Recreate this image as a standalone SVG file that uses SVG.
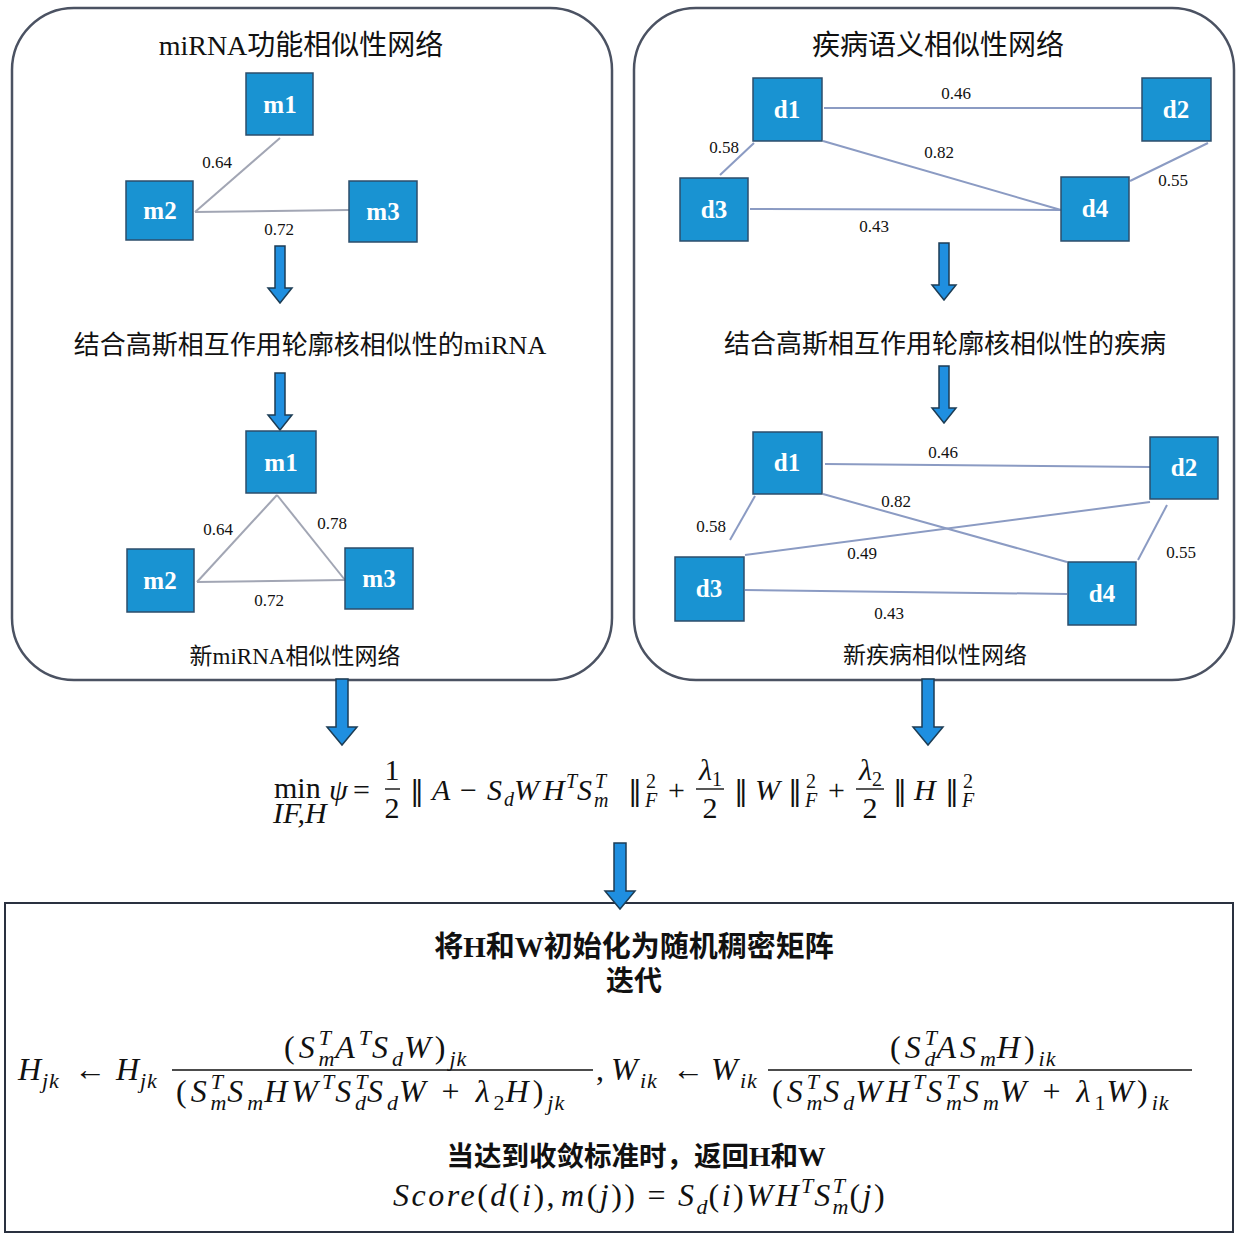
<svg xmlns="http://www.w3.org/2000/svg" width="1240" height="1237" viewBox="0 0 1240 1237">
<style>
.panel{fill:#fff;stroke:#4b5262;stroke-width:2.5}
.box{fill:#fff;stroke:#2a3140;stroke-width:2}
.node{fill:#1993d2;stroke:#2c4d6b;stroke-width:1.5}
.nt{font-family:"Liberation Serif",serif;font-weight:bold;font-size:25px;fill:#fff;text-anchor:middle}
.el{stroke:#a2a6b4;stroke-width:2;fill:none}
.er{stroke:#8b9bc3;stroke-width:2;fill:none}
.lab{font-family:"Liberation Serif",serif;font-size:17px;fill:#111;text-anchor:middle}
.cn{font-family:"Liberation Serif","Noto Sans CJK SC",sans-serif;fill:#111;text-anchor:middle}
.arr{fill:#1f8fe0;stroke:#1d3d55;stroke-width:1.5}
.mt{font-family:"Liberation Serif","DejaVu Serif",serif;font-size:32px;font-style:italic;fill:#111}
.mo{font-family:"Liberation Serif","DejaVu Serif",serif;font-size:30px;font-style:italic;fill:#111}
.nb{font-family:"DejaVu Serif",serif;font-size:28px;font-style:normal;fill:#111}
.ls4{letter-spacing:4px}
.ls3{letter-spacing:2.5px}
.up{font-style:normal}
.sc{font-size:22px;letter-spacing:1px}
.so{font-size:20px}
.bar{stroke:#111;stroke-width:1.4}
</style>
<defs>
<path id="arrS" d="M-5,0 L5,0 L5,42 L12,42 L0,57 L-12,42 L-5,42 Z"/>
<path id="arrB" d="M-6,0 L6,0 L6,48 L15,48 L0,66 L-15,48 L-6,48 Z"/>
</defs>

<g id="panel-mirna"><rect class="panel" x="12" y="8" width="600" height="672" rx="62"/></g>
<g id="panel-disease"><rect class="panel" x="634" y="8" width="600" height="672" rx="62"/></g>
<g id="panel-nmf"><rect class="box" x="5" y="903" width="1228" height="329"/></g>

<g id="connectors">
 <line class="el" x1="280" y1="138" x2="195" y2="212"/>
 <line class="el" x1="195" y1="212" x2="349" y2="210"/>
 <line class="el" x1="277" y1="495" x2="197" y2="582"/>
 <line class="el" x1="277" y1="495" x2="345" y2="580"/>
 <line class="el" x1="197" y1="582" x2="345" y2="580"/>
 <line class="er" x1="824" y1="108" x2="1142" y2="108"/>
 <line class="er" x1="823" y1="141" x2="1061" y2="210"/>
 <line class="er" x1="754" y1="143" x2="720" y2="175"/>
 <line class="er" x1="1208" y1="143" x2="1130" y2="181"/>
 <line class="er" x1="750" y1="209" x2="1061" y2="210"/>
 <line class="er" x1="825" y1="464" x2="1150" y2="467"/>
 <line class="er" x1="823" y1="494" x2="1067" y2="562"/>
 <line class="er" x1="745" y1="555" x2="1150" y2="502"/>
 <line class="er" x1="755" y1="496" x2="730" y2="540"/>
 <line class="er" x1="1167" y1="505" x2="1138" y2="560"/>
 <line class="er" x1="745" y1="590" x2="1067" y2="594"/>
 <use href="#arrS" class="arr" x="280" y="246"/>
 <use href="#arrS" class="arr" x="280" y="373"/>
 <use href="#arrS" class="arr" x="944" y="243"/>
 <use href="#arrS" class="arr" x="944" y="366"/>
 <use href="#arrB" class="arr" x="342" y="679"/>
 <use href="#arrB" class="arr" x="928" y="679"/>
 <use href="#arrB" class="arr" x="620" y="843"/>
</g>

<g id="edge-labels">
 <text class="lab" x="217" y="168">0.64</text>
 <text class="lab" x="279" y="235">0.72</text>
 <text class="lab" x="218" y="535">0.64</text>
 <text class="lab" x="332" y="529">0.78</text>
 <text class="lab" x="269" y="606">0.72</text>
 <text class="lab" x="956" y="99">0.46</text>
 <text class="lab" x="939" y="158">0.82</text>
 <text class="lab" x="724" y="153">0.58</text>
 <text class="lab" x="1173" y="186">0.55</text>
 <text class="lab" x="874" y="232">0.43</text>
 <text class="lab" x="943" y="458">0.46</text>
 <text class="lab" x="896" y="507">0.82</text>
 <text class="lab" x="862" y="559">0.49</text>
 <text class="lab" x="711" y="532">0.58</text>
 <text class="lab" x="1181" y="558">0.55</text>
 <text class="lab" x="889" y="619">0.43</text>
</g>

<g id="titles">
 <text class="cn" x="301" y="55" font-size="28">miRNA功能相似性网络</text>
 <text class="cn" x="310" y="354" font-size="26">结合高斯相互作用轮廓核相似性的miRNA</text>
 <text class="cn" x="295" y="664" font-size="23">新miRNA相似性网络</text>
 <text class="cn" x="938" y="55" font-size="28">疾病语义相似性网络</text>
 <text class="cn" x="945" y="353" font-size="26">结合高斯相互作用轮廓核相似性的疾病</text>
 <text class="cn" x="935" y="663" font-size="23">新疾病相似性网络</text>
 <text class="cn" x="634" y="957" font-size="29" font-weight="bold">将H和W初始化为随机稠密矩阵</text>
 <text class="cn" x="634" y="991" font-size="28" font-weight="bold">迭代</text>
 <text class="cn" x="636" y="1166" font-size="27.5" font-weight="bold">当达到收敛标准时，返回H和W</text>
</g>

<g id="m1"><rect class="node" x="246" y="73" width="67" height="62"/><text class="nt" x="280" y="113">m1</text></g>
<g id="m2"><rect class="node" x="126" y="181" width="67" height="59"/><text class="nt" x="160" y="219">m2</text></g>
<g id="m3"><rect class="node" x="349" y="181" width="68" height="61"/><text class="nt" x="383" y="220">m3</text></g>
<g id="m1-new"><rect class="node" x="246" y="431" width="70" height="62"/><text class="nt" x="281" y="471">m1</text></g>
<g id="m2-new"><rect class="node" x="127" y="549" width="67" height="63"/><text class="nt" x="160" y="589">m2</text></g>
<g id="m3-new"><rect class="node" x="345" y="548" width="68" height="61"/><text class="nt" x="379" y="587">m3</text></g>
<g id="d1"><rect class="node" x="753" y="78" width="69" height="63"/><text class="nt" x="787" y="118">d1</text></g>
<g id="d2"><rect class="node" x="1142" y="78" width="69" height="63"/><text class="nt" x="1176" y="118">d2</text></g>
<g id="d3"><rect class="node" x="680" y="178" width="68" height="63"/><text class="nt" x="714" y="218">d3</text></g>
<g id="d4"><rect class="node" x="1061" y="177" width="68" height="64"/><text class="nt" x="1095" y="217">d4</text></g>
<g id="d1-new"><rect class="node" x="753" y="432" width="69" height="62"/><text class="nt" x="787" y="471">d1</text></g>
<g id="d2-new"><rect class="node" x="1150" y="437" width="68" height="62"/><text class="nt" x="1184" y="476">d2</text></g>
<g id="d3-new"><rect class="node" x="675" y="557" width="69" height="64"/><text class="nt" x="709" y="597">d3</text></g>
<g id="d4-new"><rect class="node" x="1068" y="562" width="68" height="63"/><text class="nt" x="1102" y="602">d4</text></g>

<g id="objective">
 <text class="mo up" x="274" y="798">min</text>
 <text class="mo" x="273" y="823" font-size="16">IF,H</text>
 <text class="mo" x="329" y="800">ψ</text>
 <text class="mo up" x="353" y="800">=</text>
 <text class="mo up" x="392" y="780" text-anchor="middle">1</text>
 <line class="bar" x1="385" y1="789" x2="400" y2="789"/>
 <text class="mo up" x="392" y="818" text-anchor="middle">2</text>
 <text class="nb" x="410" y="800">‖</text>
 <text class="mo" y="800"><tspan x="432">A</tspan><tspan class="up" x="460">−</tspan><tspan x="487">S</tspan><tspan class="so" x="504" y="806">d</tspan><tspan x="514" y="800">W</tspan><tspan x="543">H</tspan><tspan class="so" x="566" y="788">T</tspan><tspan x="577" y="800">S</tspan><tspan class="so" x="595" y="788">T</tspan><tspan class="so" x="594" y="807">m</tspan></text>
 <text class="nb" x="628" y="800">‖</text>
 <text class="mo" y="800"><tspan class="so up" x="646" y="788">2</tspan><tspan class="so" x="645" y="807">F</tspan><tspan class="up" x="668" y="800">+</tspan></text>
 <text class="mo" x="699" y="780">λ<tspan class="so up" y="786">1</tspan></text>
 <line class="bar" x1="696" y1="789" x2="724" y2="789"/>
 <text class="mo up" x="710" y="818" text-anchor="middle">2</text>
 <text class="nb" x="734" y="800">‖</text>
 <text class="mo" x="755" y="800">W</text>
 <text class="nb" x="788" y="800">‖</text>
 <text class="mo" y="800"><tspan class="so up" x="806" y="788">2</tspan><tspan class="so" x="805" y="807">F</tspan><tspan class="up" x="828" y="800">+</tspan></text>
 <text class="mo" x="859" y="780">λ<tspan class="so up" y="786">2</tspan></text>
 <line class="bar" x1="856" y1="789" x2="884" y2="789"/>
 <text class="mo up" x="870" y="818" text-anchor="middle">2</text>
 <text class="nb" x="893" y="800">‖</text>
 <text class="mo" x="914" y="800">H</text>
 <text class="nb" x="945" y="800">‖</text>
 <text class="mo" y="800"><tspan class="so up" x="963" y="788">2</tspan><tspan class="so" x="962" y="807">F</tspan></text>
</g>

<g id="updates">
 <text class="mt" y="1080"><tspan x="18">H</tspan><tspan class="sc" x="42" y="1088">jk</tspan><tspan class="up" x="74" y="1080">←</tspan><tspan x="116">H</tspan><tspan class="sc" x="140" y="1088">jk</tspan></text>
 <text class="mt ls4" x="284" y="1058"><tspan class="up">(</tspan><tspan>S</tspan><tspan class="sc" dy="-13">T</tspan><tspan class="sc" dx="-13.5" dy="21">m</tspan><tspan dy="-8">A</tspan><tspan class="sc" dy="-13">T</tspan><tspan dy="13">S</tspan><tspan class="sc" dy="8">d</tspan><tspan dy="-8">W</tspan><tspan class="up">)</tspan><tspan class="sc" dy="8">jk</tspan></text>
 <line class="bar" x1="172" y1="1070" x2="593" y2="1070"/>
 <text class="mt ls4" x="176" y="1102"><tspan class="up">(</tspan><tspan>S</tspan><tspan class="sc" dy="-13">T</tspan><tspan class="sc" dx="-13.5" dy="21">m</tspan><tspan dy="-8">S</tspan><tspan class="sc" dy="8">m</tspan><tspan dy="-8">H</tspan><tspan>W</tspan><tspan class="sc" dy="-13">T</tspan><tspan dy="13">S</tspan><tspan class="sc" dy="-13">T</tspan><tspan class="sc" dx="-13.5" dy="21">d</tspan><tspan dy="-8">S</tspan><tspan class="sc" dy="8">d</tspan><tspan dy="-8">W</tspan><tspan class="up" dx="12">+</tspan><tspan dx="12">λ</tspan><tspan class="sc up" dy="8">2</tspan><tspan dy="-8">H</tspan><tspan class="up">)</tspan><tspan class="sc" dy="8">jk</tspan></text>
 <text class="mt" x="596" y="1080"><tspan class="up">,</tspan></text>
 <text class="mt" y="1080"><tspan x="611">W</tspan><tspan class="sc" x="640" y="1088">ik</tspan><tspan class="up" x="672" y="1080">←</tspan><tspan x="711">W</tspan><tspan class="sc" x="740" y="1088">ik</tspan></text>
 <text class="mt ls4" x="890" y="1058"><tspan class="up">(</tspan><tspan>S</tspan><tspan class="sc" dy="-13">T</tspan><tspan class="sc" dx="-13.5" dy="21">d</tspan><tspan dy="-8">A</tspan><tspan>S</tspan><tspan class="sc" dy="8">m</tspan><tspan dy="-8">H</tspan><tspan class="up">)</tspan><tspan class="sc" dy="8">ik</tspan></text>
 <line class="bar" x1="768" y1="1070" x2="1192" y2="1070"/>
 <text class="mt ls4" x="772" y="1102"><tspan class="up">(</tspan><tspan>S</tspan><tspan class="sc" dy="-13">T</tspan><tspan class="sc" dx="-13.5" dy="21">m</tspan><tspan dy="-8">S</tspan><tspan class="sc" dy="8">d</tspan><tspan dy="-8">W</tspan><tspan>H</tspan><tspan class="sc" dy="-13">T</tspan><tspan dy="13">S</tspan><tspan class="sc" dy="-13">T</tspan><tspan class="sc" dx="-13.5" dy="21">m</tspan><tspan dy="-8">S</tspan><tspan class="sc" dy="8">m</tspan><tspan dy="-8">W</tspan><tspan class="up" dx="12">+</tspan><tspan dx="12">λ</tspan><tspan class="sc up" dy="8">1</tspan><tspan dy="-8">W</tspan><tspan class="up">)</tspan><tspan class="sc" dy="8">ik</tspan></text>
</g>

<g id="score">
 <text class="mt ls3" x="393" y="1206"><tspan>Score</tspan><tspan class="up">(</tspan><tspan>d</tspan><tspan class="up">(</tspan><tspan>i</tspan><tspan class="up">),</tspan><tspan dx="4">m</tspan><tspan class="up">(</tspan><tspan>j</tspan><tspan class="up">))</tspan><tspan class="up" dx="10">=</tspan><tspan dx="10">S</tspan><tspan class="sc" dy="8">d</tspan><tspan class="up" dy="-8">(</tspan><tspan>i</tspan><tspan class="up">)</tspan><tspan>W</tspan><tspan>H</tspan><tspan class="sc" dy="-13">T</tspan><tspan dy="13">S</tspan><tspan class="sc" dy="-13">T</tspan><tspan class="sc" dx="-13.5" dy="21">m</tspan><tspan class="up" dy="-8">(</tspan><tspan>j</tspan><tspan class="up">)</tspan></text>
</g>
</svg>
